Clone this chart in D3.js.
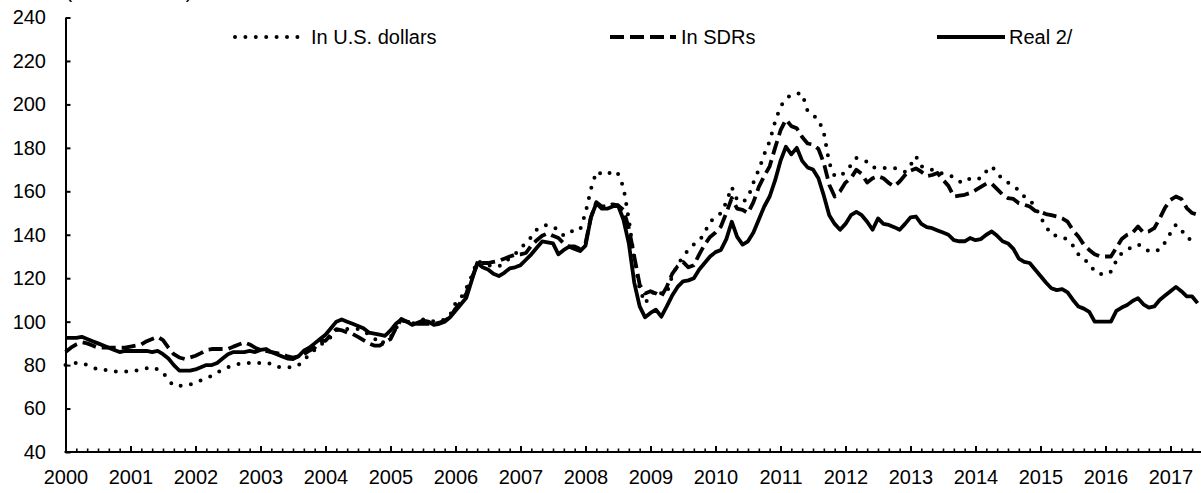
<!DOCTYPE html>
<html><head><meta charset="utf-8">
<script src="https://cdn.jsdelivr.net/npm/d3@7"></script>
<style>
body{margin:0;background:#fff}
svg{display:block}
text{font-family:"Liberation Sans",Arial,sans-serif;fill:#000}
</style>
</head><body>
<svg id="c" width="1201" height="493"></svg>
<script>
// ---- data (monthly, Jan 2000 onward) ----
const startYear = 2000;
const yearLabels = [2000,2001,2002,2003,2004,2005,2006,2007,2008,2009,2010,2011,2012,2013,2014,2015,2016,2017];
const yTicks = [40,60,80,100,120,140,160,180,200,220,240];
const seriesNames = ["In U.S. dollars","In SDRs","Real 2/"];
const titleText = "(2005 = 100)";

const usd = [
 80,80.5,81,81,80,79,78,78,77.5,77,77,77,
 77.4,77.5,78,78.5,79,78,76.6,73,70.5,70.5,70.5,71,
 72,73,74,75,76.5,78,79,80,80.5,80.5,81,81,
 81,81.2,80.5,79.2,79,79,79,80,82,85,87,89.5,
 90.5,93,96,97,96.6,96.6,96.6,96,94,92.5,89.7,91,
 92.8,97,100.5,100,99,100,101,101,100,100,101,103,
 108.5,111,115.4,121,128,127,126,125.4,125.4,127,129.2,131,
 133.9,136,139,142.3,144,144.6,143.5,142.3,139.5,141,142.3,142.3,
 150,161,169,168,167.5,169.5,168,162,147,129,115,108.5,
 112,114.7,113,113,121,126,130,133,135.5,137,141,146,
 148,150,155,162,156,155,157,164,170,177,183,192,
 199,202.5,204.5,205,205,197,195,193,187,173,167,167,
 169,172,175.3,174.5,173.5,171,170.7,170.7,170.7,170.7,170,169,
 172,176.1,171.5,170.5,169.9,169.2,168,167.6,166.5,164.5,164,166,
 165.5,166,169.2,171.5,168.4,165.5,164,162.3,160.5,157.6,156,153,
 148,144,140,139.5,139,137.7,135,131,128.5,127,123,122,
 121.6,123,128,131.6,133,134.6,135.5,134.5,132.3,132.5,133.1,136.5,
 140.8,144.6,142.3,138.5,137.5,137
];
const sdr = [
 86,88,89.5,90.5,90,89,88,88,88,88,88,88,
 88.5,89,89.5,91,92,93,91.5,88,85,83.5,82.8,83.5,
 84.3,85.5,87,87.4,87.4,87.4,87.4,88.5,89.5,90.5,89.5,88,
 87,86.5,86,85.5,85,84,83.5,84,85,86.6,88,91.2,
 91.2,94,96.6,96,95,94.3,93,91.5,90,89,89,90.5,
 92,97,101.2,100,99.5,99,99,99,99,99.5,100.5,102,
 106,109,113,120,126.2,127,127,127.5,128,129,130,130.8,
 131,131.6,135,137.5,139.5,140.7,139.5,138.5,136,134.6,134.6,133.5,
 136,148,155,153,153,154,153.5,151.5,143,130,117,113,
 114,113,111.6,116,122,125.5,127.5,125,126,131,135.5,139,
 141,143.8,150,156.9,152,151.5,150,155,162,167,171.5,180,
 188,193,190,189,185,182,181.5,179.5,173,163,157.6,160,
 164,166,169.9,168,164,166,166.9,166,163.8,162.3,164.5,167.5,
 169.5,170.5,169,167,167.5,168.4,165.3,162.5,157.6,158,158.4,159.2,
 160.5,162,163.5,163.5,161,158.5,156.9,156.5,154.5,153.8,153,151,
 150.5,149.5,149,148.4,147.5,146,142,139.2,135.4,133,131,130,
 130,130,134,138,140,141,143.8,141,141.5,143,147.5,152.5,
 156,157.6,156.5,152.3,150,149.2
];
const real = [
 92.5,92.5,92.5,93,92,91,90,89,88,87,86,86.5,
 86.5,86.5,86.5,86.5,86,86.5,85,83,80,77.5,77.5,77.5,
 78,79,80,80,81,83,85,86,86,86,86.5,86,
 87,87.4,86,85,84,83,82.8,84,86.6,88,90,92,
 94,97,100,101,100,99,98,97,95,94.5,94,93.5,
 96,99,101,100,98.5,99.5,100.5,100,98.5,99,100,102,
 105,108,111,119,127,125,124,122,121,122.5,124.5,125,
 126,128.5,131,134,136.9,136.5,136,131,133,134.5,133.5,132.5,
 135,148,154.5,152,152,153,153.5,147,136,118,107,102,
 104,105.5,102.3,107,112,116,118.5,119,120,124,127,130,
 132,133,138,146,139,135.5,137,141,147,153,157.6,165,
 174,180.5,177,180,174,171,170,166,158,149,145,142.3,
 145,149,150.5,149,146,142.3,147.5,145,144.5,143.5,142.3,145,
 148,148.4,145,143.5,143,142,141,140,137.5,137,137,138.5,
 137.5,138,140,141.5,139.5,137,136,133.5,129,127.5,127,124,
 121,118,115.4,114.5,115,113.5,110,107,106,104.5,100,100,
 100,100,105,106.5,107.7,109.5,110.8,108,106.5,107,110,112,
 114,116,114,111.6,111.6,108.5
];

(function draw() {
  const W = 1201;
  const plotLeft = 65.5, plotBottom = 452, plotTop = 17.5;
  const svg = d3.select("#c");

  const x = d3.scaleLinear().domain([startYear, startYear + 18]).range([plotLeft, plotLeft + 18 * 65]);
  const y = d3.scaleLinear().domain([40, 240]).range([plotBottom, plotTop]);

  const styles = [
    {data: usd, dash: "0 10.4", cap: "round", w: 4},
    {data: sdr, dash: "14 6", cap: "butt", w: 3.8},
    {data: real, dash: null, cap: "butt", w: 3.8}
  ];

  // title (mostly clipped at the top edge, as in the reference)
  svg.append("text").attr("x", plotLeft).attr("y", -2).attr("font-size", 20)
    .attr("textLength", 127).text(titleText);

  // lines
  const line = d3.line().x((d, i) => x(startYear + i / 12)).y(d => y(d));
  styles.forEach(s => {
    svg.append("path").datum(s.data)
      .attr("fill", "none").attr("stroke", "#000")
      .attr("stroke-width", s.w)
      .attr("stroke-linecap", s.cap).attr("stroke-linejoin", "round")
      .attr("stroke-dasharray", s.dash)
      .attr("d", line);
  });

  // y axis
  const yAxis = svg.append("g").attr("transform", `translate(${plotLeft},0)`)
    .call(d3.axisLeft(y).tickValues(yTicks).tickSize(-5).tickSizeOuter(0).tickPadding(19.5));
  yAxis.select(".domain").attr("stroke-width", 2);
  yAxis.selectAll(".tick line").attr("stroke-width", 2);
  yAxis.selectAll("text").attr("font-size", 20).attr("font-family", "Liberation Sans, Arial, sans-serif");

  // x axis minor ticks (every two months)
  const minor = d3.range(0, 18 * 6 + 1).map(i => startYear + i / 6);
  const xMinor = svg.append("g").attr("transform", `translate(0,${plotBottom})`)
    .call(d3.axisBottom(x).tickValues(minor).tickSize(-3.5).tickSizeOuter(0).tickFormat(""));
  xMinor.select(".domain").remove();
  xMinor.selectAll(".tick line").attr("stroke-width", 1.6);

  const xAxis = svg.append("g").attr("transform", `translate(0,${plotBottom})`)
    .call(d3.axisBottom(x).tickValues(yearLabels).tickSize(-6).tickSizeOuter(0).tickPadding(18).tickFormat(d3.format("d")));
  xAxis.select(".domain").attr("stroke-width", 2).attr("d", `M${plotLeft - 1},0H${W}`);
  xAxis.selectAll(".tick line").attr("stroke-width", 2);
  xAxis.selectAll("text").attr("font-size", 20).attr("font-family", "Liberation Sans, Arial, sans-serif");

  // legend
  const legendPos = [{x0: 235, x1: 302, tx: 311}, {x0: 610, x1: 676, tx: 681}, {x0: 937, x1: 1005, tx: 1009}];
  const ly = 37;
  styles.forEach((s, i) => {
    const p = legendPos[i];
    svg.append("line").attr("x1", p.x0).attr("x2", p.x1).attr("y1", ly).attr("y2", ly)
      .attr("stroke", "#000").attr("stroke-width", s.w)
      .attr("stroke-linecap", s.cap).attr("stroke-dasharray", s.dash);
    svg.append("text").attr("x", p.tx).attr("y", ly).attr("dy", "0.35em")
      .attr("font-size", 20).text(seriesNames[i]);
  });
})();
</script>
</body></html>
